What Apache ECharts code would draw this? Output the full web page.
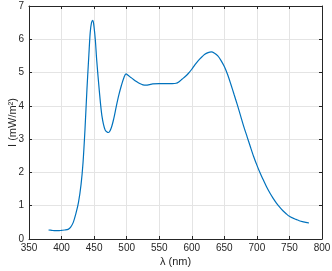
<!DOCTYPE html>
<html>
<head>
<meta charset="utf-8">
<script src="https://cdn.jsdelivr.net/npm/echarts@6/dist/echarts.min.js"></script>
<style>
  html, body { margin: 0; padding: 0; background: #fff; }
  #chart { width: 332px; height: 271px; }
</style>
</head>
<body>
<div id="chart"></div>
<script>
// spectrum
const wavelengths = [
  380, 385, 390, 395, 400, 405, 410, 414, 418, 422, 426, 430, 433, 436, 439, 442, 444, 446, 448, 450,
  452, 454, 458, 462, 467, 472, 476, 480, 484, 488, 492, 496, 499, 502, 506, 510, 515, 520, 525, 530,
  535, 540, 550, 560, 570, 576, 580, 585, 590, 595, 600, 605, 610, 615, 620, 625, 630, 635, 640, 645,
  650, 655, 660, 665, 670, 675, 680, 685, 690, 695, 700, 705, 710, 715, 720, 725, 730, 735, 740, 745,
  750, 755, 760, 765, 770, 775, 780,
]
const intensity = [
  0.27, 0.26, 0.25, 0.25, 0.26, 0.27, 0.29, 0.36, 0.50, 0.76, 1.10, 1.65, 2.30, 3.30, 4.50, 5.55, 6.20, 6.50, 6.57, 6.35,
  5.95, 5.37, 4.45, 3.70, 3.27, 3.20, 3.32, 3.60, 3.98, 4.33, 4.62, 4.86, 4.96, 4.92, 4.86, 4.80, 4.73, 4.67, 4.63, 4.62,
  4.64, 4.66, 4.67, 4.67, 4.67, 4.68, 4.72, 4.80, 4.88, 4.98, 5.10, 5.24, 5.36, 5.46, 5.55, 5.60, 5.62, 5.58, 5.50, 5.36,
  5.18, 4.94, 4.65, 4.34, 4.03, 3.70, 3.37, 3.07, 2.77, 2.48, 2.22, 1.98, 1.77, 1.56, 1.38, 1.22, 1.08, 0.96, 0.85, 0.76,
  0.68, 0.63, 0.59, 0.55, 0.52, 0.50, 0.48,
]
const xLabel = 'λ (nm)'
const yLabel = 'I (mW/m²)'

const axisColor = '#262626'
const gridColor = '#e4e4e4'
const font = 'Liberation Sans, Arial, sans-serif'

const chart = echarts.init(document.getElementById('chart'))

const xBase = { type: 'value', min: 350, max: 800, interval: 50 }
const yBase = { type: 'value', min: 0, max: 7, interval: 1 }
const line = { show: true, onZero: false, lineStyle: { color: axisColor, width: 1 } }
const ticks = { show: true, inside: true, length: 3, lineStyle: { color: axisColor } }

chart.setOption({
  animation: false,
  grid: { left: 29, right: 10, top: 6, bottom: 32, containLabel: false, outerBoundsMode: 'none' },
  xAxis: [
    {
      ...xBase,
      position: 'bottom',
      name: xLabel,
      nameLocation: 'middle',
      nameGap: 17,
      nameMoveOverlap: false,
      nameTextStyle: { color: axisColor, fontFamily: font, fontSize: 11 },
      axisLine: line,
      axisTick: ticks,
      axisLabel: { color: axisColor, fontFamily: font, fontSize: 10, margin: 4 },
      splitLine: { show: true, lineStyle: { color: gridColor, width: 1 } },
    },
    {
      ...xBase,
      position: 'top',
      axisLine: line,
      axisTick: ticks,
      axisLabel: { show: false },
      splitLine: { show: false },
    },
  ],
  yAxis: [
    {
      ...yBase,
      position: 'left',
      name: yLabel,
      nameLocation: 'middle',
      nameRotate: 90,
      nameGap: 11,
      nameMoveOverlap: false,
      nameTextStyle: { color: axisColor, fontFamily: font, fontSize: 11 },
      axisLine: line,
      axisTick: ticks,
      axisLabel: { color: axisColor, fontFamily: font, fontSize: 10, margin: 5 },
      splitLine: { show: true, lineStyle: { color: gridColor, width: 1 } },
    },
    {
      ...yBase,
      position: 'right',
      axisLine: line,
      axisTick: ticks,
      axisLabel: { show: false },
      splitLine: { show: false },
    },
  ],
  series: [{
    type: 'line',
    data: wavelengths.map((w, i) => [w, intensity[i]]),
    showSymbol: false,
    smooth: 0.3,
    lineStyle: { color: '#0072BD', width: 1.2 },
  }],
})
</script>
</body>
</html>
